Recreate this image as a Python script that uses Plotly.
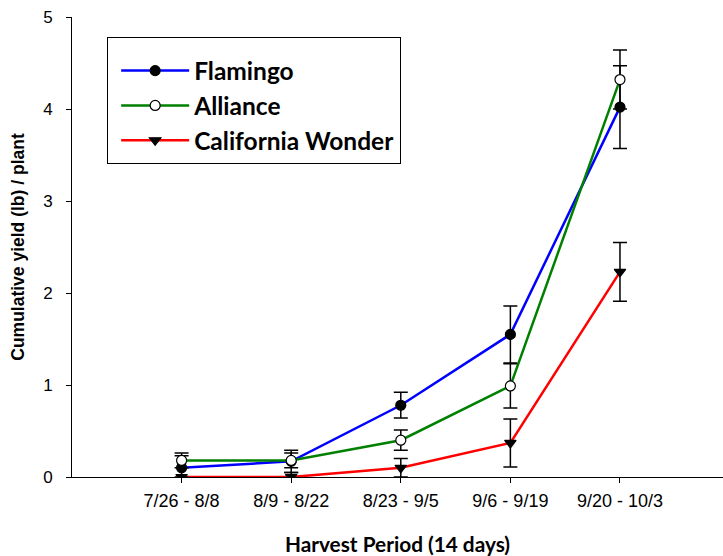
import plotly.graph_objects as go

periods = ["7/26 - 8/8", "8/9 - 8/22", "8/23 - 9/5", "9/6 - 9/19", "9/20 - 10/3"]
flamingo = [0.10, 0.17, 0.78, 1.55, 4.02]
flamingo_err = [0.13, 0.12, 0.14, 0.31, 0.45]
alliance = [0.18, 0.18, 0.40, 0.99, 4.32]
alliance_err = [0.08, 0.08, 0.11, 0.24, 0.32]
california = [0.00, 0.00, 0.10, 0.37, 2.23]
california_err = [0.00, 0.05, 0.10, 0.26, 0.32]

x = list(range(len(periods)))

series = [
    ("Flamingo", flamingo, flamingo_err, "#0000ff", "circle", "black"),
    ("Alliance", alliance, alliance_err, "#008000", "circle", "white"),
    ("California Wonder", california, california_err, "#ff0000", "triangle-down", "black"),
]

fig = go.Figure()
for name, y, e, col, sym, fill in series:
    fig.add_trace(go.Scatter(
        x=x, y=y, mode="lines", line=dict(color=col, width=2.5),
        showlegend=False, hoverinfo="skip"))
    fig.add_trace(go.Scatter(
        x=x, y=y, mode="markers", name=name,
        marker=dict(symbol=sym, size=10, color=fill, line=dict(color="black", width=1.2)),
        error_y=dict(type="data", array=e, visible=True, color="black", thickness=1.5, width=7),
        showlegend=False))
    fig.add_trace(go.Scatter(
        x=[None], y=[None], mode="lines+markers", name=name, legendgroup=name,
        line=dict(color=col, width=2.5),
        marker=dict(symbol=sym, size=10, color=fill, line=dict(color="black", width=1.2))))

fig.update_layout(
    width=723, height=556,
    margin=dict(l=72, r=0, t=17, b=79),
    plot_bgcolor="white", paper_bgcolor="white",
    font=dict(family="Arial", color="black"),
    showlegend=True,
    legend=dict(
        x=0.054, y=0.957, xanchor="left", yanchor="top",
        bordercolor="black", borderwidth=1, bgcolor="white",
        font=dict(family="Lato", size=24.5, color="black", weight="bold"),
        itemwidth=68, indentation=8, tracegroupgap=0, entrywidth=290,
        title=dict(text=" ", font=dict(size=8)),
    ),
    xaxis=dict(
        range=[-1, 4.94], tickmode="array", tickvals=x, ticktext=periods,
        showline=True, linecolor="black", linewidth=1,
        ticks="outside", ticklen=5, tickcolor="black",
        showgrid=False, zeroline=False, ticklabelstandoff=2,
        tickfont=dict(family="Arial", size=18),
        title=dict(text="Harvest Period (14 days)", standoff=30,
                   font=dict(family="Lato", size=20.8, weight="bold")),
    ),
    yaxis=dict(
        range=[0, 5], tickvals=[0, 1, 2, 3, 4, 5],
        showline=True, linecolor="black", linewidth=1,
        ticks="outside", ticklen=5, tickcolor="black",
        showgrid=False, zeroline=False, ticklabelstandoff=10,
        tickfont=dict(family="Arial", size=17),
        title=dict(text="Cumulative yield (lb) / plant", standoff=14,
                   font=dict(family="Arial", size=17.5, weight="bold")),
    ),
)

fig.write_html("out.html")
